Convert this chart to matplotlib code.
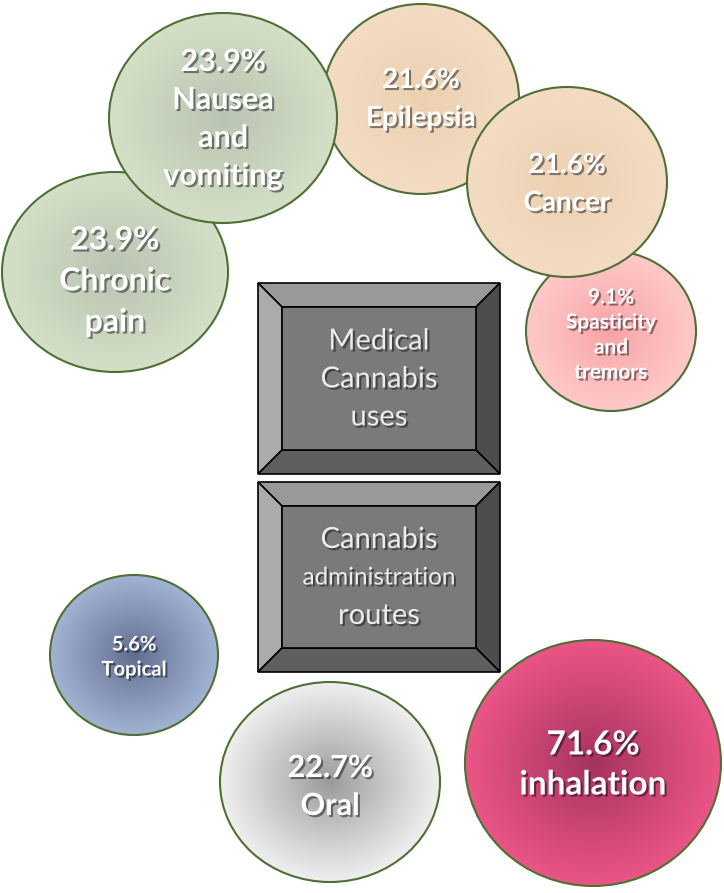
import numpy as np
import matplotlib
matplotlib.use('Agg')
import matplotlib.pyplot as plt
from matplotlib.patches import Ellipse, Polygon, Rectangle
import matplotlib.patheffects as pe

# data
use_labels = ['Chronic\npain', 'Spasticity\nand\ntremors', 'Epilepsia', 'Cancer', 'Nausea\nand\nvomiting']
use_pct = [23.9, 9.1, 21.6, 21.6, 23.9]
route_labels = ['Topical', 'Oral', 'inhalation']
route_pct = [5.6, 22.7, 71.6]
box_titles = ['Medical\nCannabis\nuses', 'Cannabis\nadministration\nroutes']

# layout (pixels): cx, cy, rx, ry, text dy, line gap
use_pos = [(115, 272, 113, 100, 9, 41), (611, 331, 85, 80, 4, 25), (421, 99, 98, 95, 0, 38),
           (567, 182, 100, 95, 2, 38), (223, 118, 114, 105, 1, 38)]
use_fs = [23, 15, 20, 20, 22]
use_inner = [('#b9c3b2', '#d3dfc6'), ('#f7a2a5', '#ffc9c9'), ('#ecd0b0', '#f3dcc3'),
             ('#ecd0b0', '#f3dcc3'), ('#b9c3b2', '#d3dfc6')]
route_pos = [(134, 655, 84, 80, 2, 25), (330, 782, 110, 100, 5, 38), (593, 763, 128, 123, 2, 40)]
route_fs = [14.5, 22, 24]
route_inner = [('#5f6c8e', '#a1b2d3'), ('#989898', '#efefef'), ('#a3325c', '#ea5586')]
boxes = [(258, 283, 500, 474), (258, 482, 500, 672)]

W, H = 724, 893
fig = plt.figure(figsize=(W / 100, H / 100), dpi=100)
ax = fig.add_axes([0, 0, 1, 1])
ax.set_xlim(0, W)
ax.set_ylim(H, 0)
ax.axis('off')

font = ['Lato', 'DejaVu Sans']
shadow = [pe.SimplePatchShadow(offset=(1.5, -1.5), shadow_rgbFace='k', alpha=0.45), pe.Normal()]


def hex2rgb(h):
    return np.array(matplotlib.colors.to_rgb(h))


def lines_at(x, y, txt, gap, fs, z, **kw):
    parts = txt.split('\n')
    n = len(parts)
    for j, ln in enumerate(parts):
        f = fs(ln) if callable(fs) else fs
        ax.text(x, y + (j - (n - 1) / 2) * gap, ln, ha='center', va='center', fontsize=f,
                family=font, zorder=z, path_effects=shadow, **kw)


def bubble(pos, c_in, c_out, txt, fs, z):
    cx, cy, rx, ry, dy, gap = pos
    n = 200
    g = np.linspace(-1, 1, n)
    xx, yy = np.meshgrid(g, g)
    t = np.clip(np.sqrt(xx ** 2 + yy ** 2), 0, 1) ** 0.9
    img = hex2rgb(c_in)[None, None, :] * (1 - t[..., None]) + hex2rgb(c_out)[None, None, :] * t[..., None]
    e = Ellipse((cx, cy), 2 * rx, 2 * ry, facecolor='none', edgecolor='#4f6f34', lw=1.5, zorder=z + 0.5)
    ax.add_patch(e)
    im = ax.imshow(img, extent=(cx - rx, cx + rx, cy + ry, cy - ry), zorder=z, interpolation='bilinear')
    im.set_clip_path(e)
    lines_at(cx, cy + dy, txt, gap, fs, z + 0.7, color='white', fontweight='bold')


z = 2
for i in range(len(use_labels)):
    bubble(use_pos[i], use_inner[i][0], use_inner[i][1], f'{use_pct[i]}%\n{use_labels[i]}', use_fs[i], z)
    z += 1

for i in range(len(route_labels)):
    bubble(route_pos[i], route_inner[i][0], route_inner[i][1], f'{route_pct[i]}%\n{route_labels[i]}', route_fs[i], z)
    z += 1

# bevelled boxes
for k, (x0, y0, x1, y1) in enumerate(boxes):
    b = 24
    ix0, iy0, ix1, iy1 = x0 + b, y0 + b, x1 - b, y1 - b
    faces = [([(x0, y0), (x1, y0), (ix1, iy0), (ix0, iy0)], '#999999'),
             ([(x0, y0), (ix0, iy0), (ix0, iy1), (x0, y1)], '#ababab'),
             ([(x1, y0), (x1, y1), (ix1, iy1), (ix1, iy0)], '#4d4d4d'),
             ([(x0, y1), (ix0, iy1), (ix1, iy1), (x1, y1)], '#5f5f5f')]
    for pts, c in faces:
        ax.add_patch(Polygon(pts, closed=True, facecolor=c, edgecolor='black', lw=1.2, zorder=20))
    ax.add_patch(Rectangle((ix0, iy0), ix1 - ix0, iy1 - iy0, facecolor='#7a7a7a',
                           edgecolor='black', lw=1.2, zorder=20))
    lines_at((x0 + x1) / 2, (y0 + y1) / 2 + 1, box_titles[k], 38,
             lambda s: 17.5 if s == 'administration' else 21, 21, color='#ececec')

fig.savefig('out.png', dpi=100)
